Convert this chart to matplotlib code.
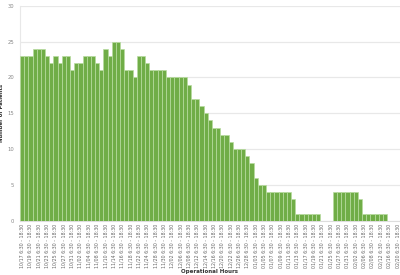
import numpy as np
import matplotlib
matplotlib.use("Agg")
import matplotlib.pyplot as plt


# Patients per operational shift (one bar per category)
patients = [
    23, 23, 23, 24, 24, 24, 23, 22, 23, 22, 23, 23, 21, 22, 22, 23, 23, 23, 22, 21,
    24, 23, 25, 25, 24, 21, 21, 20, 23, 23, 22, 21, 21, 21, 21, 20, 20, 20, 20, 20,
    19, 17, 17, 16, 15, 14, 13, 13, 12, 12, 11, 10, 10, 10, 9, 8, 6, 5, 5,
    4, 4, 4, 4, 4, 4, 3, 1, 1, 1, 1, 1, 1, 0, 0, 0,
    4, 4, 4, 4, 4, 4, 3, 1, 1, 1, 1, 1, 1, 0, 0, 0,
]

# Dates shown under every other bar
tick_dates = [
    "10/17", "10/19", "10/21", "10/23", "10/25", "10/27", "10/31", "11/02",
    "11/04", "11/08", "11/10", "11/14", "11/16", "11/18", "11/22", "11/24",
    "11/28", "11/30", "12/02", "12/06", "12/08", "12/12", "12/14", "12/16",
    "12/20", "12/22", "12/26", "12/28", "01/03", "01/05", "01/07", "01/09",
    "01/11", "01/13", "01/17", "01/19", "01/21", "01/25", "01/27", "01/31",
    "02/02", "02/06", "02/08", "02/12", "02/16", "02/20",
]
shift = "6:30 - 18:30"


fig = plt.figure(figsize=(4.0, 2.75), dpi=100)
ax = fig.add_axes([0.05, 0.197, 0.949, 0.782])

x = np.arange(len(patients))
ax.bar(x, patients, width=1.0, color="#70ad47", edgecolor="#b8dca0",
       linewidth=0.5, zorder=3)

ax.set_xlim(-0.5, len(patients) - 0.5)
ax.set_ylim(0, 30)
ax.set_yticks(np.arange(0, 31, 5))

ticks = x[::2]
ax.set_xticks(ticks)
ax.set_xticklabels([f"{d} {shift}" for d in tick_dates[:len(ticks)]],
                   rotation=90, fontsize=3.4, color="#666666")
ax.tick_params(axis="y", labelsize=3.8, labelcolor="#888888", length=0, pad=4)
ax.tick_params(axis="x", length=0, pad=2)

ax.grid(axis="y", color="#e8e8e8", linewidth=0.9, zorder=0)
for side in ["top", "right"]:
    ax.spines[side].set_visible(False)
ax.spines["left"].set_color("#e8e8e8")
ax.spines["bottom"].set_color("#dddddd")

ax.set_ylabel("Number of Patients", fontsize=3.8, fontweight="bold",
              color="#333333", labelpad=3)
ax.set_xlabel("Operational Hours", fontsize=4.0, fontweight="bold",
              color="#333333", labelpad=1)

fig.savefig("out.png", dpi=100)
